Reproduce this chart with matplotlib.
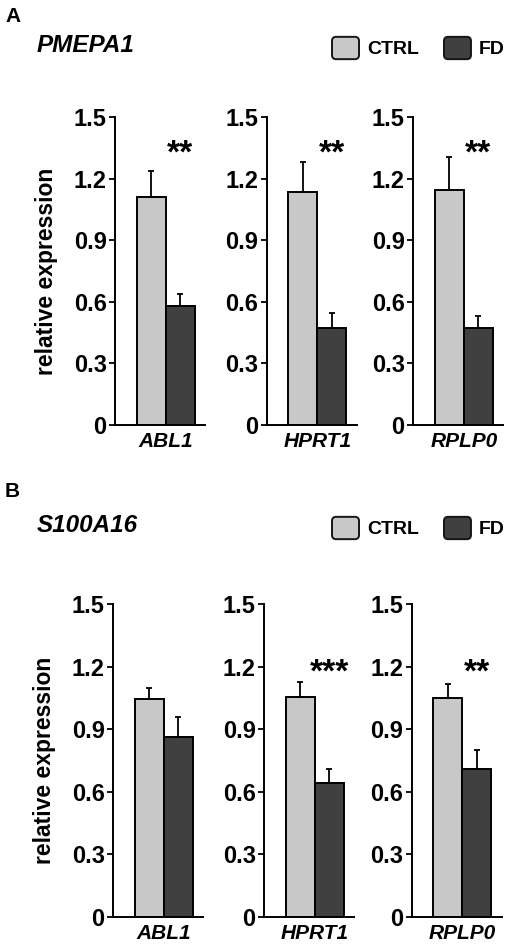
import matplotlib
matplotlib.use('Agg')
import matplotlib.pyplot as plt
from matplotlib.patches import Patch, FancyBboxPatch
from matplotlib.legend_handler import HandlerPatch

plt.rcParams['font.family'] = ['Liberation Sans', 'DejaVu Sans']

# reference genes (x labels)
ref_genes = ['ABL1', 'HPRT1', 'RPLP0']

# panel A: PMEPA1
pmepa1_ctrl = [1.11, 1.135, 1.145]
pmepa1_ctrl_err = [0.13, 0.15, 0.16]
pmepa1_fd = [0.58, 0.475, 0.475]
pmepa1_fd_err = [0.06, 0.07, 0.055]
pmepa1_sig = ['**', '**', '**']

# panel B: S100A16
s100_ctrl = [1.045, 1.053, 1.05]
s100_ctrl_err = [0.055, 0.075, 0.067]
s100_fd = [0.863, 0.643, 0.71]
s100_fd_err = [0.095, 0.065, 0.09]
s100_sig = ['', '***', '**']

yticks = [0, 0.3, 0.6, 0.9, 1.2, 1.5]
ytick_labels = ['0', '0.3', '0.6', '0.9', '1.2', '1.5']

CTRL_COLOR = '#c8c8c8'
FD_COLOR = '#404040'

W, H = 509, 947
fig = plt.figure(figsize=(W / 100, H / 100), dpi=100)


class RoundBox(HandlerPatch):
    def create_artists(self, legend, orig_handle, xdescent, ydescent,
                       width, height, fontsize, trans):
        p = FancyBboxPatch((-xdescent, -ydescent), width, height,
                           boxstyle='round,pad=0,rounding_size=3',
                           facecolor=orig_handle.get_facecolor(),
                           edgecolor='#151515', linewidth=1.4,
                           transform=trans)
        return [p]


def draw_panel(lefts, bottom_px, px_per_unit, ctrl, ctrl_err, fd, fd_err, sig, star_y):
    height_px = 1.5 * px_per_unit
    ekw = dict(ecolor='black', elinewidth=1.3, capsize=2, capthick=1.3)
    for i, gene in enumerate(ref_genes):
        ax = fig.add_axes([lefts[i] / W, 1 - bottom_px / H, 90 / W, height_px / H])
        ax.bar(1.25, ctrl[i], width=1.0, color=CTRL_COLOR, edgecolor='black', linewidth=1.4,
               yerr=[[0], [ctrl_err[i]]], error_kw=ekw, zorder=2)
        ax.bar(2.25, fd[i], width=1.0, color=FD_COLOR, edgecolor='black', linewidth=1.4,
               yerr=[[0], [fd_err[i]]], error_kw=ekw, zorder=2)
        if sig[i]:
            ax.text(2.25, star_y, sig[i], ha='center', va='center', fontsize=24, fontweight='bold')
        ax.set_xlim(0, 3.1)
        ax.set_ylim(0, 1.5)
        ax.set_yticks(yticks)
        ax.set_yticklabels(ytick_labels, fontsize=17, fontweight='bold')
        ax.set_xticks([1.75])
        ax.set_xticklabels([gene], fontsize=15, fontweight='bold', style='italic')
        ax.tick_params(axis='x', length=0, pad=5)
        ax.tick_params(axis='y', direction='out', length=4, width=1.3, pad=2)
        for s in ['top', 'right']:
            ax.spines[s].set_visible(False)
        for s in ['left', 'bottom']:
            ax.spines[s].set_linewidth(1.4)
        if i == 0:
            ax.set_ylabel('relative expression', fontsize=16.5, fontweight='bold')
            ax.yaxis.set_label_coords(-0.63, 0.5)


def draw_header(letter, letter_y, title, title_y, legend_y):
    fig.text(5 / W, 1 - letter_y / H, letter, ha='left', va='center', fontsize=15, fontweight='bold')
    fig.text(37 / W, 1 - title_y / H, title, ha='left', va='center', fontsize=17.5,
             fontweight='bold', style='italic')
    handles = [Patch(facecolor=CTRL_COLOR), Patch(facecolor=FD_COLOR)]
    fig.legend(handles, ['CTRL', 'FD'], loc='center left', bbox_to_anchor=(332 / W, 1 - legend_y / H),
               ncol=2, frameon=False, borderpad=0, borderaxespad=0,
               handlelength=1.39, handleheight=1.39, handletextpad=0.4, columnspacing=1.3,
               prop=dict(size=14, weight='bold'), handler_map={Patch: RoundBox()})


draw_header('A', 16, 'PMEPA1', 45, 48)
draw_panel([115, 266.5, 413], 425, 205, pmepa1_ctrl, pmepa1_ctrl_err, pmepa1_fd, pmepa1_fd_err,
           pmepa1_sig, 1.32)

draw_header('B', 491, 'S100A16', 526, 528)
draw_panel([113, 264, 411.5], 916.7, 208.3, s100_ctrl, s100_ctrl_err, s100_fd, s100_fd_err,
           s100_sig, 1.17)

fig.savefig('out.png', dpi=100)
